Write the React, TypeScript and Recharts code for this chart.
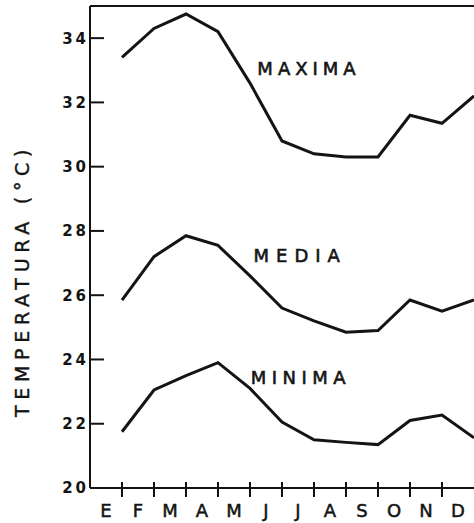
import React from "react";
import {
  LineChart,
  Line,
  XAxis,
  YAxis,
  ReferenceLine,
  ReferenceDot,
} from "recharts";

const months = ["E", "F", "M", "A", "M", "J", "J", "A", "S", "O", "N", "D"];
const maxima = [33.4, 34.3, 34.75, 34.2, 32.6, 30.8, 30.4, 30.3, 30.3, 31.6, 31.35, 32.2];
const media = [25.85, 27.2, 27.85, 27.55, 26.6, 25.6, 25.2, 24.85, 24.9, 25.85, 25.5, 25.85];
const minima = [21.75, 23.05, 23.5, 23.9, 23.1, 22.05, 21.5, 21.42, 21.35, 22.1, 22.27, 21.56];
const yTicks = [20, 22, 24, 26, 28, 30, 32, 34];
const xTicks = [0.5, 1, 1.5, 2, 2.5, 3, 3.5, 4, 4.5, 5, 5.5, 6, 6.5, 7, 7.5, 8, 8.5, 9, 9.5, 10, 10.5, 11, 11.5];

const data = months.map((m, i) => ({
  pos: i + 1,
  month: m,
  maxima: maxima[i],
  media: media[i],
  minima: minima[i],
}));

const INK = "#141414";
const FONT = "DejaVu Sans";

// integer ticks = month boundaries (crossing tick marks), half ticks = month letters
const XTick = ({ x, y, payload }: any) => {
  const v = payload.value;
  if (Number.isInteger(v)) {
    return <line x1={x} x2={x} y1={y - 6} y2={y + 9} stroke={INK} strokeWidth={2} />;
  }
  return (
    <text
      x={x}
      y={y + 29}
      textAnchor="middle"
      fontFamily={FONT}
      fontSize={18}
      fill={INK}
      stroke={INK}
      strokeWidth={0.5}
    >
      {months[Math.floor(v)]}
    </text>
  );
};

const YTick = ({ x, y, payload }: any) => (
  <g>
    {payload.value !== 20 && (
      <line x1={x} x2={x + 14} y1={y} y2={y} stroke={INK} strokeWidth={2} />
    )}
    <text
      x={x - 1}
      y={y}
      dy="0.36em"
      textAnchor="end"
      fontFamily={FONT}
      fontSize={15}
      fontWeight="bold"
      letterSpacing={3}
      fill={INK}
    >
      {payload.value}
    </text>
  </g>
);

const seriesLabel = (text: string, spacing: number) => (props: any) => {
  const { viewBox } = props;
  return (
    <text
      x={viewBox.x}
      y={viewBox.y}
      dy="0.36em"
      fontFamily={FONT}
      fontSize={18}
      letterSpacing={spacing}
      fill={INK}
      stroke={INK}
      strokeWidth={0.6}
    >
      {text}
    </text>
  );
};

const YLabel = () => (
  <text
    transform="translate(29, 417) rotate(-90)"
    fontFamily={FONT}
    fontSize={19}
    letterSpacing={5.7}
    fill={INK}
    stroke={INK}
    strokeWidth={0.4}
  >
    TEMPERATURA (°C)
  </text>
);

export default function App() {
  return (
    <div style={{ position: "absolute", left: 0, top: 0, width: 474, height: 523, background: "#fff" }}>
      <LineChart
        width={474}
        height={523}
        data={data}
        margin={{ top: 6, right: 0, left: 0, bottom: 0 }}
        style={{ fontFamily: FONT }}
      >
        <XAxis
          dataKey="pos"
          type="number"
          domain={[0, 12]}
          ticks={xTicks}
          interval={0}
          height={35}
          tickSize={0}
          tickMargin={0}
          tick={<XTick />}
          axisLine={{ stroke: INK, strokeWidth: 2 }}
          tickLine={false}
        />
        <YAxis
          type="number"
          domain={[20, 35]}
          ticks={yTicks}
          interval={0}
          width={90}
          tickSize={0}
          tickMargin={0}
          tick={<YTick />}
          axisLine={{ stroke: INK, strokeWidth: 2 }}
          tickLine={false}
          label={<YLabel />}
        />
        <ReferenceLine y={35} stroke={INK} strokeWidth={2} />
        <Line dataKey="maxima" stroke={INK} strokeWidth={3} dot={false} isAnimationActive={false} />
        <Line dataKey="media" stroke={INK} strokeWidth={3} dot={false} isAnimationActive={false} />
        <Line dataKey="minima" stroke={INK} strokeWidth={3} dot={false} isAnimationActive={false} />
        <ReferenceDot x={5.23} y={33.05} r={0} label={{ content: seriesLabel("MAXIMA", 5) }} />
        <ReferenceDot x={5.11} y={27.25} r={0} label={{ content: seriesLabel("MEDIA", 7) }} />
        <ReferenceDot x={5.02} y={23.45} r={0} label={{ content: seriesLabel("MINIMA", 5.5) }} />
      </LineChart>
    </div>
  );
}
